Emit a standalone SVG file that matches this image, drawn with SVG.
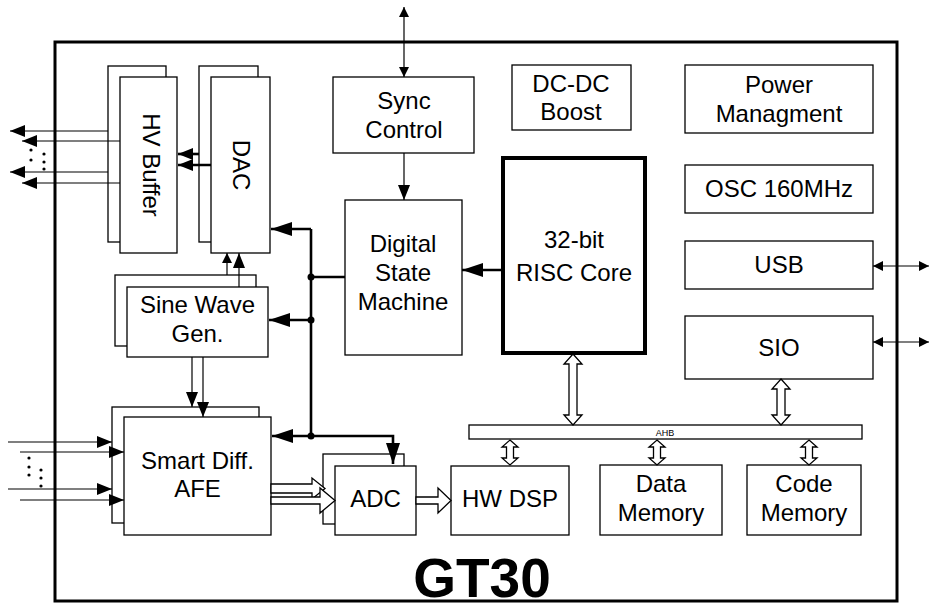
<svg xmlns="http://www.w3.org/2000/svg" width="929" height="608" viewBox="0 0 929 608">
<style>
  .box { fill: #fff; stroke: #000; stroke-width: 1.3; }
  .t { font-family: "Liberation Sans", Arial, sans-serif; font-size: 24px; fill: #000; text-anchor: middle; }
  .thin { fill: none; stroke: #000; stroke-width: 1.2; }
  .bus { fill: none; stroke: #000; stroke-width: 2.6; }
  .hollow { fill: #fff; stroke: #000; stroke-width: 1.3; stroke-linejoin: miter; }
</style>
<defs>
  <marker id="ahs" markerUnits="userSpaceOnUse" markerWidth="12" markerHeight="10" refX="10" refY="5" orient="auto-start-reverse">
    <path d="M0,0 L10,5 L0,10 Z" fill="#000"/>
  </marker>
  <marker id="ahm" markerUnits="userSpaceOnUse" markerWidth="16" markerHeight="12" refX="15" refY="6" orient="auto-start-reverse">
    <path d="M0,0 L15,6 L0,12 Z" fill="#000"/>
  </marker>
  <marker id="ahb" markerUnits="userSpaceOnUse" markerWidth="22" markerHeight="14" refX="21" refY="7" orient="auto-start-reverse">
    <path d="M0,0 L21,7 L0,14 Z" fill="#000"/>
  </marker>
</defs>

<rect id="chip" x="55" y="42" width="842" height="559" fill="#fff" stroke="#000" stroke-width="3"/>

<g id="hv-buffer">
  <rect class="box" x="108" y="66" width="58" height="176"/>
  <rect class="box" x="120" y="77" width="57" height="176"/>
  <text class="t" transform="translate(151,165) rotate(90)" y="8.5">HV Buffer</text>
</g>
<g id="dac">
  <rect class="box" x="199" y="66" width="59" height="176"/>
  <rect class="box" x="211" y="77" width="59" height="176"/>
  <text class="t" transform="translate(241,165) rotate(90)" y="8.5">DAC</text>
</g>
<g id="sync-control">
  <rect class="box" x="333" y="77" width="141" height="76"/>
  <text class="t" x="404" y="109">Sync</text>
  <text class="t" x="404" y="138">Control</text>
</g>
<g id="dc-dc-boost">
  <rect class="box" x="512" y="65" width="119" height="65"/>
  <text class="t" x="571" y="92">DC-DC</text>
  <text class="t" x="571" y="120">Boost</text>
</g>
<g id="power-managment">
  <rect class="box" x="685" y="65" width="188" height="68"/>
  <text class="t" x="779" y="93">Power</text>
  <text class="t" x="779" y="122">Managment</text>
</g>
<g id="osc">
  <rect class="box" x="685" y="165" width="188" height="48"/>
  <text class="t" x="779" y="197">OSC 160MHz</text>
</g>
<g id="usb">
  <rect class="box" x="685" y="241" width="188" height="48"/>
  <text class="t" x="779" y="273">USB</text>
</g>
<g id="sio">
  <rect class="box" x="685" y="316" width="188" height="63"/>
  <text class="t" x="779" y="356">SIO</text>
</g>
<g id="risc-core">
  <rect x="503" y="158" width="142" height="195" fill="#fff" stroke="#000" stroke-width="4"/>
  <text class="t" x="574" y="248">32-bit</text>
  <text class="t" x="574" y="281">RISC Core</text>
</g>
<g id="digital-state-machine">
  <rect class="box" x="345" y="200" width="117" height="155"/>
  <text class="t" x="403" y="252">Digital</text>
  <text class="t" x="403" y="281">State</text>
  <text class="t" x="403" y="310">Machine</text>
</g>
<g id="sine-wave-gen">
  <rect class="box" x="115" y="275" width="141" height="71"/>
  <rect class="box" x="127" y="287" width="141" height="70"/>
  <text class="t" x="197.5" y="313">Sine Wave</text>
  <text class="t" x="197.5" y="342">Gen.</text>
</g>
<g id="smart-diff-afe">
  <rect class="box" x="112" y="407" width="147" height="116"/>
  <rect class="box" x="124" y="417" width="147" height="118"/>
  <text class="t" x="197.5" y="469">Smart Diff.</text>
  <text class="t" x="197.5" y="497">AFE</text>
</g>
<g id="adc">
  <rect class="box" x="323" y="454" width="81" height="70"/>
  <rect class="box" x="335" y="466" width="81" height="69"/>
  <text class="t" x="375.5" y="507">ADC</text>
</g>
<g id="hw-dsp">
  <rect class="box" x="451" y="466" width="118" height="69"/>
  <text class="t" x="510" y="507">HW DSP</text>
</g>
<g id="data-memory">
  <rect class="box" x="600" y="465" width="122" height="70"/>
  <text class="t" x="661" y="492">Data</text>
  <text class="t" x="661" y="521">Memory</text>
</g>
<g id="code-memory">
  <rect class="box" x="747" y="465" width="114" height="70"/>
  <text class="t" x="804" y="492">Code</text>
  <text class="t" x="804" y="521">Memory</text>
</g>
<g id="ahb">
  <rect class="box" x="469" y="425" width="393" height="14"/>
  <text x="665" y="436" font-family="Liberation Sans, Arial, sans-serif" font-size="9" text-anchor="middle" fill="#000">AHB</text>
</g>

<g id="connectors">
  <!-- sync -->
  <line class="thin" x1="404" y1="7" x2="404" y2="77" marker-start="url(#ahs)" marker-end="url(#ahs)"/>
  <line class="thin" x1="404" y1="153" x2="404" y2="200" marker-end="url(#ahm)"/>
  <!-- RISC to DSM -->
  <line class="bus" x1="503" y1="270" x2="462" y2="270" marker-end="url(#ahb)"/>
  <!-- DSM bus -->
  <path class="bus" d="M345,277 H311"/>
  <path class="bus" d="M311,229 V436"/>
  <path class="bus" d="M311,229 H271" marker-end="url(#ahb)"/>
  <path class="bus" d="M311,320 H269" marker-end="url(#ahb)"/>
  <path class="bus" d="M311,436 H272" marker-end="url(#ahb)"/>
  <path class="bus" d="M311,436 H393 V464" marker-end="url(#ahb)"/>
  <circle cx="311" cy="277" r="3.5" fill="#000"/>
  <circle cx="311" cy="320" r="3.5" fill="#000"/>
  <circle cx="311" cy="436" r="3.5" fill="#000"/>
  <!-- DAC to HV buffer -->
  <path class="bus" d="M199,154 H178" marker-end="url(#ahm)"/>
  <path class="bus" d="M211,165 H178" marker-end="url(#ahm)"/>
  <!-- HV outputs -->
  <line class="thin" x1="108" y1="131" x2="10" y2="131" marker-end="url(#ahm)"/>
  <line class="thin" x1="120" y1="141" x2="22" y2="141" marker-end="url(#ahm)"/>
  <line class="thin" x1="108" y1="172" x2="10" y2="172" marker-end="url(#ahm)"/>
  <line class="thin" x1="120" y1="183" x2="22" y2="183" marker-end="url(#ahm)"/>
  <g fill="#000">
    <circle cx="31" cy="150" r="1.6"/><circle cx="31" cy="160" r="1.6"/>
    <circle cx="44" cy="154" r="1.6"/><circle cx="44" cy="162" r="1.6"/><circle cx="44" cy="169" r="1.6"/>
  </g>
  <!-- sine to DAC -->
  <line class="thin" x1="227" y1="275" x2="227" y2="253" marker-end="url(#ahs)"/>
  <line class="thin" x1="239" y1="287" x2="239" y2="253" marker-end="url(#ahm)"/>
  <!-- sine to AFE -->
  <line class="thin" x1="192" y1="357" x2="192" y2="407" marker-end="url(#ahm)"/>
  <line class="thin" x1="203" y1="357" x2="203" y2="417" marker-end="url(#ahm)"/>
  <!-- AFE inputs -->
  <line class="thin" x1="8" y1="442" x2="112" y2="442" marker-end="url(#ahm)"/>
  <line class="thin" x1="20" y1="452" x2="124" y2="452" marker-end="url(#ahm)"/>
  <line class="thin" x1="8" y1="489" x2="112" y2="489" marker-end="url(#ahm)"/>
  <line class="thin" x1="20" y1="500" x2="124" y2="500" marker-end="url(#ahm)"/>
  <g fill="#000">
    <circle cx="29" cy="458" r="1.6"/><circle cx="29" cy="467" r="1.6"/><circle cx="29" cy="475" r="1.6"/>
    <circle cx="41" cy="470" r="1.6"/><circle cx="41" cy="478" r="1.6"/><circle cx="41" cy="486" r="1.6"/>
  </g>
  <!-- USB / SIO external -->
  <line class="thin" x1="873" y1="266" x2="929" y2="266" marker-start="url(#ahs)" marker-end="url(#ahs)"/>
  <line class="thin" x1="873" y1="342" x2="929" y2="342" marker-start="url(#ahs)" marker-end="url(#ahs)"/>
  <!-- hollow bus arrows -->
  <polygon class="hollow" points="573,354 582,364 577,364 577,415 582,415 573,425 564,415 569,415 569,364 564,364"/>
  <polygon class="hollow" points="781,379 790,389 785,389 785,415 790,415 781,425 772,415 777,415 777,389 772,389"/>
  <polygon class="hollow" points="510,440 518,447 513.5,447 513.5,458 518,458 510,465 502,458 506.5,458 506.5,447 502,447"/>
  <polygon class="hollow" points="657,440 665,447 660.5,447 660.5,458 665,458 657,465 649,458 653.5,458 653.5,447 649,447"/>
  <polygon class="hollow" points="809,440 817,447 812.5,447 812.5,458 817,458 809,465 801,458 805.5,458 805.5,447 801,447"/>
  <!-- AFE to ADC, ADC to DSP -->
  <polygon class="hollow" points="271,484 312,484 312,478 325,488.5 312,499 312,493 271,493"/>
  <polygon class="hollow" points="271,497 320,497 320,488 335,500.5 320,513 320,504 271,504"/>
  <polygon class="hollow" points="416,497 438,497 438,488 451,500.5 438,513 438,504 416,504"/>
</g>

<text x="482" y="597" font-family="Liberation Sans, Arial, sans-serif" font-size="55" font-weight="bold" text-anchor="middle" fill="#000">GT30</text>
</svg>
